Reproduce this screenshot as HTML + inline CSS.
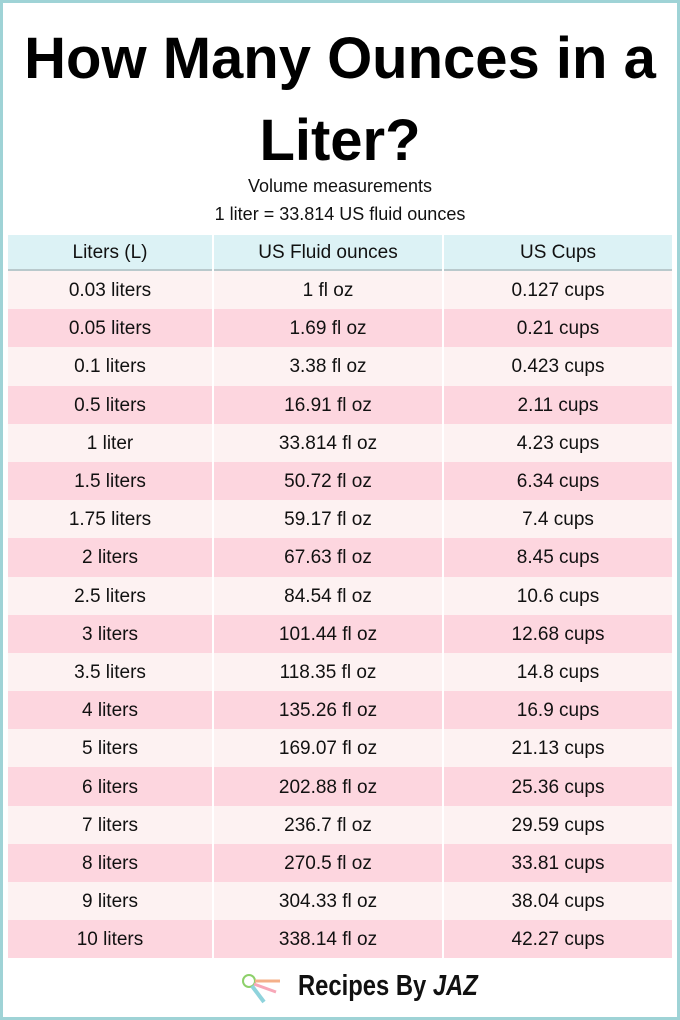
<!DOCTYPE html>
<html><head><style>
body{margin:0;width:680px;height:1020px;background:#fff;font-family:"Liberation Sans",sans-serif;overflow:hidden}
.frame{position:absolute;left:0;top:0;width:674px;height:1014px;border:3px solid #9fd3d6}
h1{position:absolute;left:0;width:680px;top:18px;margin:0;text-align:center;font-size:58px;line-height:82px;font-weight:bold;color:#000}
.sub{position:absolute;left:0;width:680px;text-align:center;font-size:18px;color:#111}
table{position:absolute;left:6px;top:235px;width:668px;border-collapse:separate;border-spacing:2px 0}
td{text-align:center;font-size:19px;color:#111;height:36.2px;padding:2px 0 0 0}
tr.h td{background:#dcf2f5;height:32px;border-bottom:2px solid #b9c9cc}
tr:nth-child(even) td{background:#fdf2f2}
tr:nth-child(odd):not(.h) td{background:#fdd6df}
.logo{position:absolute;top:970px;left:298px;font-size:29px;font-weight:bold;color:#111;transform:scaleX(0.82);transform-origin:left}
</style></head><body>
<div class="frame"></div>
<h1>How Many Ounces in a<br>Liter?</h1>
<div class="sub" style="top:176px">Volume measurements</div>
<div class="sub" style="top:204px">1 liter = 33.814 US fluid ounces</div>
<table>
<colgroup><col style="width:204px"><col style="width:228px"><col style="width:228px"></colgroup>
<tr class="h"><td>Liters (L)</td><td>US Fluid ounces</td><td>US Cups</td></tr>
<tr><td>0.03 liters</td><td>1 fl oz</td><td>0.127 cups</td></tr>
<tr><td>0.05 liters</td><td>1.69 fl oz</td><td>0.21 cups</td></tr>
<tr><td>0.1 liters</td><td>3.38 fl oz</td><td>0.423 cups</td></tr>
<tr><td>0.5 liters</td><td>16.91 fl oz</td><td>2.11 cups</td></tr>
<tr><td>1 liter</td><td>33.814 fl oz</td><td>4.23 cups</td></tr>
<tr><td>1.5 liters</td><td>50.72 fl oz</td><td>6.34 cups</td></tr>
<tr><td>1.75 liters</td><td>59.17 fl oz</td><td>7.4 cups</td></tr>
<tr><td>2 liters</td><td>67.63 fl oz</td><td>8.45 cups</td></tr>
<tr><td>2.5 liters</td><td>84.54 fl oz</td><td>10.6 cups</td></tr>
<tr><td>3 liters</td><td>101.44 fl oz</td><td>12.68 cups</td></tr>
<tr><td>3.5 liters</td><td>118.35 fl oz</td><td>14.8 cups</td></tr>
<tr><td>4 liters</td><td>135.26 fl oz</td><td>16.9 cups</td></tr>
<tr><td>5 liters</td><td>169.07 fl oz</td><td>21.13 cups</td></tr>
<tr><td>6 liters</td><td>202.88 fl oz</td><td>25.36 cups</td></tr>
<tr><td>7 liters</td><td>236.7 fl oz</td><td>29.59 cups</td></tr>
<tr><td>8 liters</td><td>270.5 fl oz</td><td>33.81 cups</td></tr>
<tr><td>9 liters</td><td>304.33 fl oz</td><td>38.04 cups</td></tr>
<tr><td>10 liters</td><td>338.14 fl oz</td><td>42.27 cups</td></tr>
</table>
<svg style="position:absolute;left:240px;top:972px" width="50" height="36">
<circle cx="9" cy="9" r="6" fill="none" stroke="#8dd06a" stroke-width="2"/>
<path d="M15 9 L40 9" stroke="#f4b08a" stroke-width="3"/>
<path d="M14 12 L36 20" stroke="#f7a7b8" stroke-width="3"/>
<path d="M12 14 L24 30" stroke="#8fd3dc" stroke-width="4"/>
</svg>
<div class="logo">Recipes By <i>JAZ</i></div>
</body></html>
